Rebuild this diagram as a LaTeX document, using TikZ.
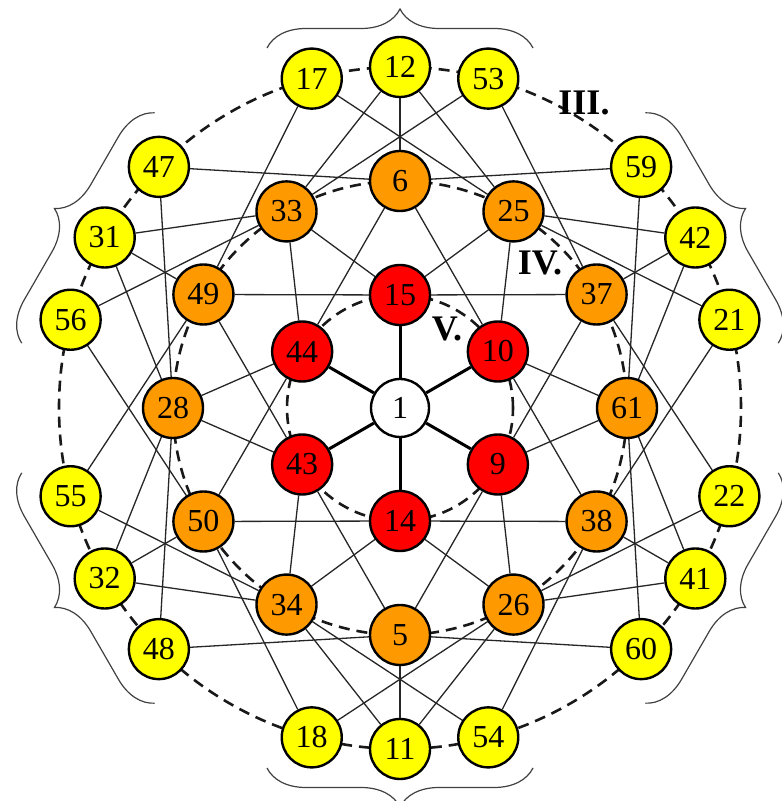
\documentclass[tikz,border=0pt]{standalone}
\usepackage{fontspec}
\setmainfont{Liberation Serif}
\usetikzlibrary{decorations.pathreplacing}
\pgfdeclarelayer{bg}
\pgfsetlayers{bg,main}
\definecolor{yel}{RGB}{255,255,0}
\definecolor{ora}{RGB}{255,153,0}
\definecolor{rd}{RGB}{255,0,0}
\tikzset{
  vtx/.style={circle, draw=black, line width=2.4pt, minimum size=60pt, inner sep=0pt, font=\fontsize{32}{32}\selectfont},
  yv/.style={vtx, fill=yel},
  ov/.style={vtx, fill=ora},
  rv/.style={vtx, fill=rd},
  cv/.style={vtx, fill=white, minimum size=58pt},
  edge/.style={line width=1.3pt, draw=black!85},
  spoke/.style={line width=3pt, draw=black},
  ring/.style={line width=2.6pt, draw=black!90, dash pattern=on 11pt off 7pt},
  bracestyle/.style={line width=1.2pt, draw=black!75, decorate, decoration={brace, amplitude=39pt}},
  lab/.style={font=\fontsize{36}{36}\selectfont\bfseries, inner sep=0pt}
}
\begin{document}
\begin{tikzpicture}[x=1pt,y=1pt]
\useasboundingbox (0,0) rectangle (782,801);
\begin{scope}[shift={(400,393)}]
  % centre
  \node[cv] (n1) at (0,0) {1};
  % red ring
  \foreach \n/\a in {15/90,10/30,9/-30,14/-90,43/210,44/150}
    \node[rv] (n\n) at (\a:113) {\n};
  % orange ring
  \foreach \n/\a in {61/0,37/30,25/60,6/90,33/120,49/150,28/180,50/210,34/240,5/270,26/300,38/330}
    \node[ov] (n\n) at (\a:227) {\n};
  % yellow ring
  \foreach \n/\a in {21/15,42/30,59/45,53/75,12/90,17/105,47/135,31/150,56/165,55/195,32/210,48/225,18/255,11/270,54/285,60/315,41/330,22/345}
    \node[yv] (n\n) at (\a:341) {\n};
  % labels
  \node[lab] (l3) at (184,305) {III.};
  \node[lab] (l4) at (140,145) {IV.};
  \node[lab] (l5) at (47,79) {V.};
  \begin{pgfonlayer}{bg}
    \draw[ring] (0,0) circle[radius=341];
    \draw[ring] (0,0) circle[radius=227];
    \draw[ring] (0,0) circle[radius=113];
    \foreach \k in {0,...,5}
      \draw[bracestyle, rotate=60*\k] (-133,360) -- (133,360);
    \foreach \b in {15,10,9,14,43,44}
      \draw[spoke] (n1) -- (n\b);
    \foreach \a/\b in {15/25,15/33,15/37,15/49, 10/61,10/25,10/38,10/6, 9/26,9/61,9/5,9/37, 14/34,14/26,14/50,14/38, 43/28,43/34,43/49,43/5, 44/33,44/28,44/6,44/50,
      37/42,37/53,37/22, 6/12,6/47,6/59, 49/31,49/55,49/17, 50/32,50/18,50/56, 5/11,5/60,5/48, 38/41,38/21,38/54,
      61/42,61/41,61/59,61/60, 25/12,25/42,25/17,25/21, 33/31,33/12,33/56,33/53, 28/32,28/31,28/48,28/47, 34/11,34/32,34/54,34/55, 26/41,26/11,26/22,26/18}
      \draw[edge] (n\a) -- (n\b);
  \end{pgfonlayer}
\end{scope}
\end{tikzpicture}
\end{document}
